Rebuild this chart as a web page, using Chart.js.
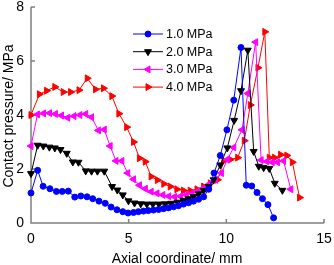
<!DOCTYPE html>
<html>
<head>
<meta charset="utf-8">
<script src="https://cdn.jsdelivr.net/npm/chart.js@4/dist/chart.umd.min.js"></script>
<style>
    html, body { margin: 0; padding: 0; background: #fff; }
    #wrap { width: 334px; height: 265px; }
</style>
</head>
<body>
<div id="wrap"><canvas id="contactChart"></canvas></div>
<script>
// Series labels
const seriesLabels = ['1.0 MPa', '2.0 MPa', '3.0 MPa', '4.0 MPa'];

// 1.0 MPa
const x10 = [0, 0.34, 0.62, 0.97, 1.3, 1.6, 1.91, 2.24, 2.55, 2.87, 3.16, 3.48, 3.8, 4.1, 4.4, 4.7, 4.97, 5.25, 5.5, 5.76,
    6.0, 6.27, 6.53, 6.78, 7.04, 7.3, 7.55, 7.81, 8.07, 8.32, 8.58, 8.84, 9.1, 9.37, 9.69, 10.03, 10.38, 10.75, 11.02, 11.3,
    11.57, 11.85, 12.13, 12.42];
const y10 = [1.11, 1.95, 1.36, 1.27, 1.17, 1.17, 1.18, 0.96, 1.0, 0.97, 0.9, 0.81, 0.73, 0.59, 0.49, 0.42, 0.37, 0.39, 0.42, 0.44,
    0.46, 0.48, 0.5, 0.53, 0.56, 0.6, 0.64, 0.7, 0.75, 0.81, 0.88, 0.97, 1.25, 1.85, 2.5, 3.45, 4.55, 6.5, 1.4, 1.37,
    1.13, 0.9, 0.68, 0.19];

// 2.0 MPa
const x20 = [0, 0.34, 0.63, 0.94, 1.22, 1.51, 1.83, 2.14, 2.43, 2.8, 3.1, 3.4, 3.75, 4.15, 4.42, 4.7, 4.99, 5.3, 5.62, 5.93,
    6.24, 6.55, 6.87, 7.18, 7.5, 7.81, 8.07, 8.32, 8.58, 8.84, 9.09, 9.35, 9.69, 10.05, 10.4, 10.75, 11.1, 11.4, 11.66, 11.91,
    12.2, 12.48, 12.87];
const y20 = [1.83, 2.88, 2.85, 2.81, 2.78, 2.72, 2.58, 2.26, 2.25, 1.93, 1.92, 1.92, 1.92, 1.35, 1.22, 1.04, 0.82, 0.74, 0.71, 0.7,
    0.7, 0.7, 0.71, 0.73, 0.77, 0.84, 0.9, 0.98, 1.08, 1.2, 1.35, 1.6, 2.15, 2.78, 3.8, 4.9, 6.4, 2.65, 2.1, 2.05,
    2.02, 1.47, 1.21];

// 3.0 MPa
const x30 = [0, 0.33, 0.64, 0.95, 1.25, 1.56, 1.88, 2.2, 2.5, 2.8, 3.1, 3.45, 3.75, 4.05, 4.35, 4.65, 4.95, 5.25, 5.55, 5.85,
    6.15, 6.45, 6.75, 7.05, 7.35, 7.65, 7.95, 8.25, 8.55, 8.85, 9.15, 9.45, 9.75, 10.05, 10.38, 10.8, 11.1, 11.5, 11.78, 12.07,
    12.35, 12.62, 12.93, 13.3];
const y30 = [2.85, 4.02, 4.06, 4.07, 4.04, 3.98, 3.9, 3.96, 4.0, 4.04, 3.92, 3.43, 3.46, 2.85, 2.3, 2.3, 1.85, 1.62, 1.4, 1.27,
    1.16, 1.1, 1.04, 0.99, 0.97, 0.99, 1.04, 1.1, 1.18, 1.3, 1.45, 1.6, 1.85, 2.35, 2.8, 3.45, 4.8, 6.7, 2.33, 2.28,
    2.25, 2.25, 2.3, 1.25];

// 4.0 MPa
const x40 = [0, 0.43, 0.8, 1.22, 1.65, 2.03, 2.46, 2.88, 3.3, 3.71, 4.14, 4.5, 4.9, 5.25, 5.55, 5.85, 6.15, 6.47, 6.8, 7.13,
    7.47, 7.81, 8.15, 8.5, 8.84, 9.18, 9.55, 9.88, 10.2, 10.58, 10.92, 11.23, 11.62, 11.97, 12.2, 12.47, 12.78, 13.1, 13.38, 13.75];
const y40 = [4.0, 4.77, 4.9, 5.04, 4.85, 4.85, 4.92, 5.36, 4.95, 4.99, 4.7, 4.05, 3.55, 3.0, 2.4, 2.27, 1.72, 1.59, 1.45, 1.35,
    1.25, 1.2, 1.2, 1.25, 1.35, 1.47, 1.6, 2.3, 2.35, 2.42, 3.05, 4.37, 5.75, 7.08, 2.42, 2.42, 2.53, 2.5, 2.25, 0.94];

// Axis ticks
const xTicks = [0, 5, 10, 15];
const yTicks = [0, 2, 4, 6, 8];

const FONT = 'Liberation Sans, Arial, sans-serif';

function toPoints(xs, ys) {
    return xs.map((x, i) => ({ x: x, y: ys[i] }));
}

function makeSet(label, xs, ys, color, style, rotation, radius) {
    return {
        label: label,
        data: toPoints(xs, ys),
        borderColor: color,
        backgroundColor: color,
        borderWidth: 1,
        pointStyle: style,
        rotation: rotation,
        pointRadius: radius,
        pointBorderWidth: 1,
        clip: false
    };
}

// Draws axis lines, inward ticks, axis titles and the legend box
const decorPlugin = {
    id: 'decor',
    beforeDatasetsDraw(chart) {
        const ctx = chart.ctx;
        const xs = chart.scales.x;
        const ys = chart.scales.y;
        const area = chart.chartArea;
        ctx.save();
        ctx.strokeStyle = '#7f7f7f';
        ctx.lineWidth = 1.5;
        ctx.beginPath();
        ctx.moveTo(area.left, ys.getPixelForValue(8));
        ctx.lineTo(area.left, area.bottom);
        ctx.lineTo(xs.getPixelForValue(15), area.bottom);
        xTicks.forEach(v => {
            const px = xs.getPixelForValue(v);
            ctx.moveTo(px, area.bottom);
            ctx.lineTo(px, area.bottom - 4);
        });
        yTicks.forEach(v => {
            const py = ys.getPixelForValue(v);
            ctx.moveTo(area.left, py);
            ctx.lineTo(area.left + 4, py);
        });
        ctx.stroke();

        // axis titles
        ctx.fillStyle = '#000';
        ctx.font = '14px ' + FONT;
        ctx.textAlign = 'center';
        ctx.textBaseline = 'middle';
        ctx.fillText('Axial coordinate/ mm', 177, 259);
        ctx.translate(9, 116);
        ctx.rotate(-Math.PI / 2);
        ctx.fillText('Contact pressure/ MPa', 0, 0);
        ctx.restore();
    },
    afterDraw(chart) {
        const ctx = chart.ctx;
        ctx.save();
        chart.data.datasets.forEach((ds, i) => {
            const y = 34 + i * 17.7;
            ctx.strokeStyle = ds.borderColor;
            ctx.lineWidth = 1;
            ctx.beginPath();
            ctx.moveTo(133, y);
            ctx.lineTo(163, y);
            ctx.stroke();
            ctx.fillStyle = ds.backgroundColor;
            Chart.helpers.drawPoint(ctx, {
                pointStyle: ds.pointStyle,
                rotation: ds.rotation,
                radius: ds.pointRadius,
                borderWidth: 1
            }, 148, y);
            ctx.fillStyle = '#000';
            ctx.font = '12.5px ' + FONT;
            ctx.textAlign = 'left';
            ctx.textBaseline = 'middle';
            ctx.fillText(ds.label, 166, y + 0.5);
        });
        ctx.restore();
    }
};

document.addEventListener('DOMContentLoaded', function () {
    const ctx = document.getElementById('contactChart').getContext('2d');

    new Chart(ctx, {
        type: 'line',
        data: {
            datasets: [
                makeSet(seriesLabels[0], x10, y10, '#0000ff', 'circle', 0, 3),
                makeSet(seriesLabels[1], x20, y20, '#000000', 'triangle', 180, 4),
                makeSet(seriesLabels[2], x30, y30, '#ff00ff', 'triangle', 270, 4),
                makeSet(seriesLabels[3], x40, y40, '#ff0000', 'triangle', 90, 4)
            ]
        },
        options: {
            responsive: true,
            maintainAspectRatio: false,
            animation: false,
            layout: {
                // plot box: left 31, right 324, top 7, bottom 223
                padding: { top: 7, right: 10, left: 0, bottom: 0 }
            },
            scales: {
                x: {
                    type: 'linear',
                    min: 0,
                    max: 15,
                    afterBuildTicks: s => { s.ticks = xTicks.map(v => ({ value: v })); },
                    afterFit: s => {
                        s.height = 42;
                        s.paddingLeft = 0;
                        s.paddingRight = 0;
                    },
                    ticks: {
                        color: '#000',
                        padding: 9,
                        maxRotation: 0,
                        font: { size: 14, family: FONT, lineHeight: 1 }
                    },
                    grid: { display: false, drawTicks: false },
                    border: { display: false }
                },
                y: {
                    min: 0,
                    max: 8,
                    afterBuildTicks: s => { s.ticks = yTicks.map(v => ({ value: v })); },
                    afterFit: s => {
                        s.width = 31;
                        s.paddingTop = 0;
                        s.paddingBottom = 0;
                    },
                    ticks: {
                        color: '#000',
                        padding: 7,
                        font: { size: 14, family: FONT, lineHeight: 1 }
                    },
                    grid: { display: false, drawTicks: false },
                    border: { display: false }
                }
            },
            plugins: {
                legend: { display: false },
                tooltip: { enabled: false }
            }
        },
        plugins: [decorPlugin]
    });
});
</script>
</body>
</html>
